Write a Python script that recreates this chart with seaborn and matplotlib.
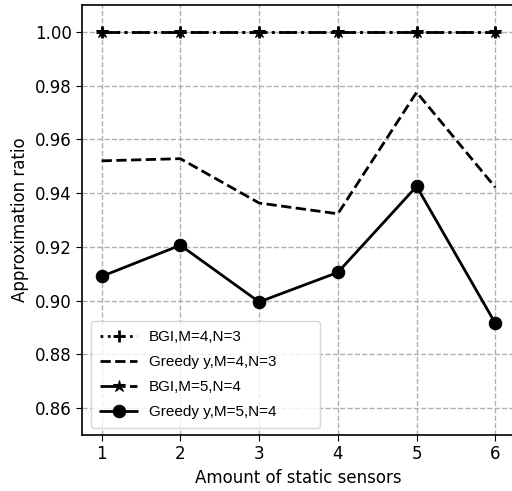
import matplotlib
matplotlib.use("Agg")
import matplotlib.pyplot as plt
import seaborn as sns
import pandas as pd

sensors = [1, 2, 3, 4, 5, 6]
bgi_m4n3 = [1.0, 1.0, 1.0, 1.0, 1.0, 1.0]
greedy_m4n3 = [0.952, 0.9528, 0.9363, 0.9323, 0.9775, 0.9421]
bgi_m5n4 = [1.0, 1.0, 1.0, 1.0, 1.0, 1.0]
greedy_m5n4 = [0.909, 0.9206, 0.8995, 0.9105, 0.9425, 0.8915]

labels = ["BGI,M=4,N=3", "Greedy y,M=4,N=3", "BGI,M=5,N=4", "Greedy y,M=5,N=4"]
series = [bgi_m4n3, greedy_m4n3, bgi_m5n4, greedy_m5n4]
styles = [
    dict(linestyle=":", marker="+", markersize=9, markeredgewidth=2),
    dict(linestyle="--", marker=None),
    dict(linestyle="-.", marker="*", markersize=9),
    dict(linestyle="-", marker="o", markersize=9),
]

sns.set_style("ticks")
plt.rcParams["font.family"] = ["DejaVu Sans"]
plt.rcParams["text.color"] = "black"
plt.rcParams["axes.labelcolor"] = "black"
plt.rcParams["xtick.color"] = "black"
plt.rcParams["ytick.color"] = "black"

fig = plt.figure(figsize=(5.12, 4.91), dpi=100)
ax = fig.add_axes([0.160, 0.114, 0.846, 0.876])

for lab, vals, st in zip(labels, series, styles):
    df = pd.DataFrame({"x": sensors, "y": vals})
    sns.lineplot(data=df, x="x", y="y", ax=ax, color="black", linewidth=2,
                 markeredgecolor="black", markerfacecolor="black",
                 label=lab, **st)

ax.set_xlim(0.75, 6.25)
ax.set_ylim(0.85, 1.01)
ax.set_xticks(sensors)
yt = [0.86, 0.88, 0.90, 0.92, 0.94, 0.96, 0.98, 1.00]
ax.set_yticks(yt)
ax.set_yticklabels([f"{v:.2f}" for v in yt])
ax.tick_params(labelsize=12, color="black", labelcolor="black", length=4)
ax.grid(True, linestyle="--", color="#b0b0b0", linewidth=1)
ax.set_axisbelow(True)
for s in ax.spines.values():
    s.set_color("black")
    s.set_linewidth(1.2)
ax.set_xlabel("Amount of static sensors", fontsize=12, color="black")
ax.set_ylabel("Approximation ratio", fontsize=12, color="black")

leg = ax.legend(loc="lower left", bbox_to_anchor=(0.021, 0.016, 0.529, 0.25),
                mode="expand", borderaxespad=0, borderpad=0.6,
                prop={"family": "Liberation Sans", "size": 11},
                handlelength=2.4, handletextpad=0.8, labelspacing=0.72)
for t in leg.get_texts():
    t.set_color("black")

fig.savefig("out.png", dpi=100)
